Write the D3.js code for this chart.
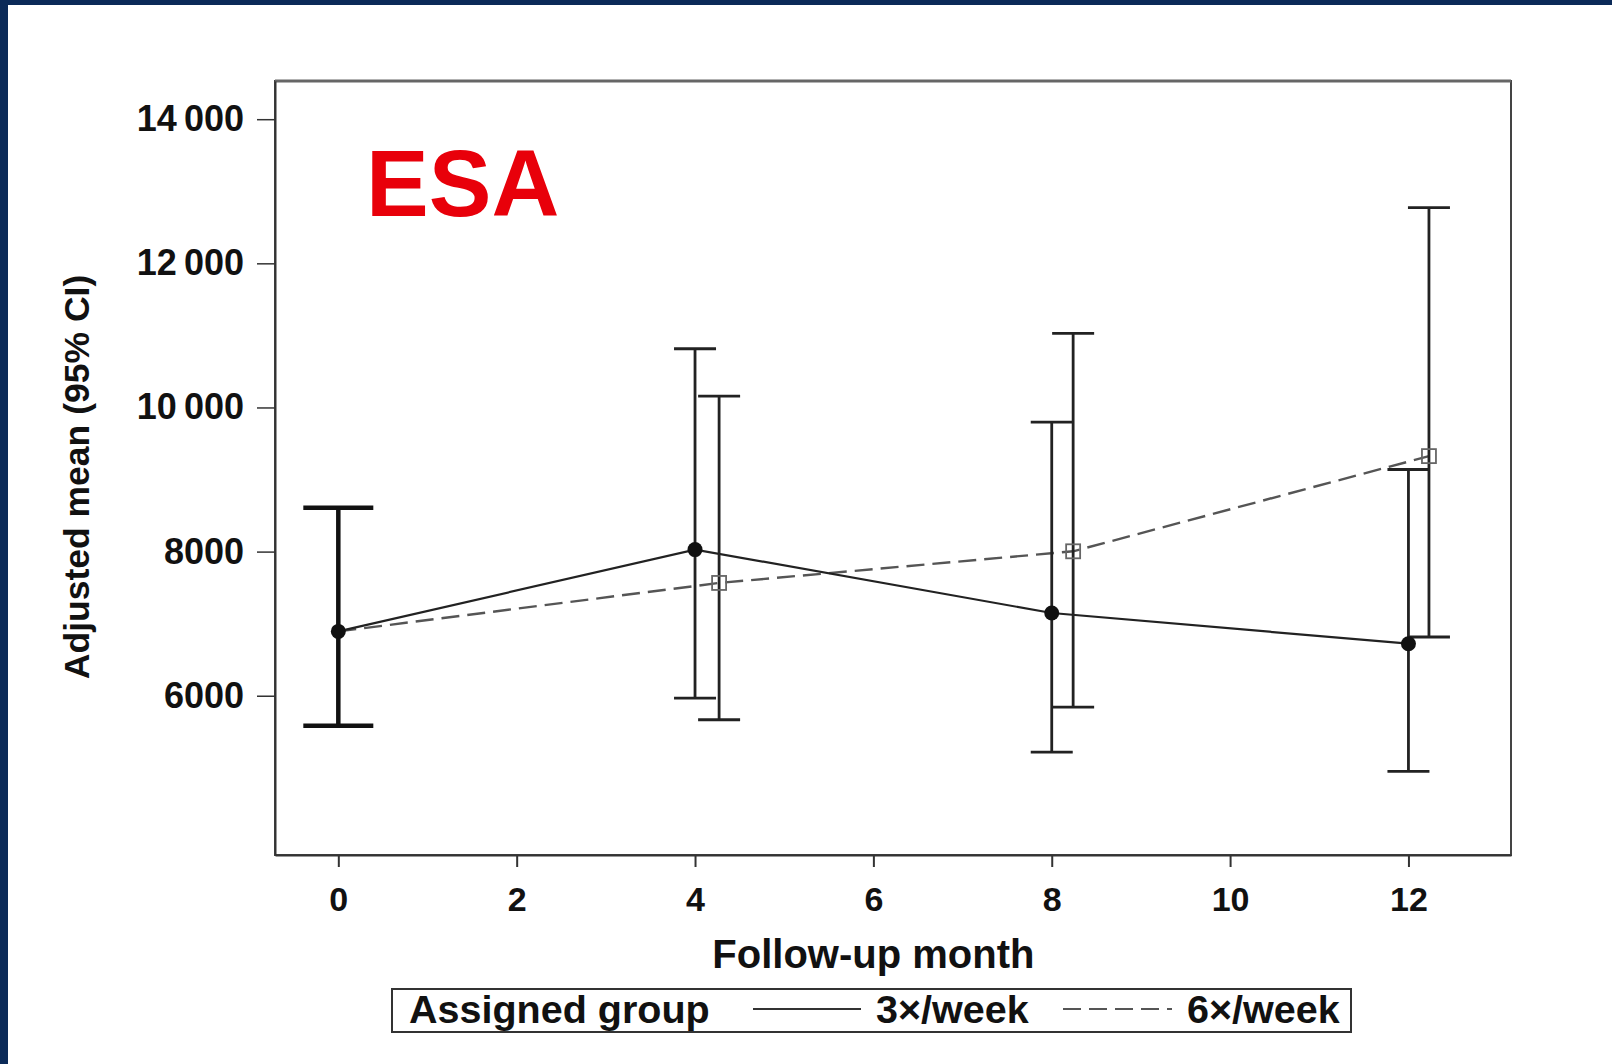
<!DOCTYPE html>
<html>
<head>
<meta charset="utf-8">
<script src="https://cdn.jsdelivr.net/npm/d3@7"></script>
<style>
  html, body { margin: 0; padding: 0; background: #ffffff; }
  svg { display: block; }
  text { font-family: "Liberation Sans", Arial, Helvetica, sans-serif; font-weight: bold; }
</style>
</head>
<body>
<svg id="chart" width="1612" height="1064"></svg>
<script>
// Pooled baseline (month 0)
const baselineMonth = 0;
const baselineMean = 6893;
const baselineLow = 5583;
const baselineHigh = 8607;

// Follow-up months and plotted positions (6x/week offset slightly right)
const months3 = [4, 8, 12];
const months6 = [4.27, 8.24, 12.23];

// Adjusted means with 95% CI, 3x/week
const mean3 = [8028, 7148, 6722];
const low3 = [5968, 5218, 4949];
const high3 = [10815, 9796, 9139];

// Adjusted means with 95% CI, 6x/week
const mean6 = [7565, 8004, 9325];
const low6 = [5667, 5843, 6815];
const high6 = [10157, 11028, 12774];

// Axis ticks
const xTicks = [0, 2, 4, 6, 8, 10, 12];
const yTicks = [6000, 8000, 10000, 12000, 14000];
const yTickLabels = ["6000", "8000", "10\u2009000", "12\u2009000", "14\u2009000"];

const legendTitle = "Assigned group";
const legendLabels = ["3×/week", "6×/week"];

const svg = d3.select("#chart");

// page frame accents
svg.append("rect").attr("x", 0).attr("y", 0).attr("width", 1612).attr("height", 1064).attr("fill", "#ffffff");
svg.append("rect").attr("x", 0).attr("y", 0).attr("width", 1612).attr("height", 5).attr("fill", "#0b2a58");
svg.append("rect").attr("x", 0).attr("y", 0).attr("width", 8).attr("height", 1064).attr("fill", "#0b2a58");

const plot = { left: 275, right: 1511, top: 81, bottom: 855 };

const x = d3.scaleLinear().domain([-0.71, 13.15]).range([plot.left, plot.right]);
const y = d3.scaleLinear().domain([3790, 14530]).range([plot.bottom, plot.top]);

// plot frame
svg.append("rect")
  .attr("x", plot.left).attr("y", plot.top)
  .attr("width", plot.right - plot.left).attr("height", plot.bottom - plot.top)
  .attr("fill", "none").attr("stroke", "#444").attr("stroke-width", 2);
svg.append("line")
  .attr("x1", plot.left).attr("x2", plot.right).attr("y1", plot.top).attr("y2", plot.top)
  .attr("stroke", "#666").attr("stroke-width", 3);

// y axis
const yAxis = d3.axisLeft(y).tickValues(yTicks).tickSizeInner(18).tickSizeOuter(0).tickPadding(13)
  .tickFormat((d, i) => yTickLabels[i]);
const gy = svg.append("g").attr("transform", `translate(${plot.left},0)`).call(yAxis);
gy.select(".domain").attr("stroke", "#333").attr("stroke-width", 2);
gy.selectAll(".tick line").attr("stroke", "#333").attr("stroke-width", 1.5);
gy.selectAll(".tick text").attr("font-size", 36).attr("fill", "#111")
  .attr("font-family", "'Liberation Sans', Arial, sans-serif").attr("font-weight", "bold");

// x axis
const xAxis = d3.axisBottom(x).tickValues(xTicks).tickSizeInner(12).tickSizeOuter(0).tickPadding(20)
  .tickFormat(d3.format("d"));
const gx = svg.append("g").attr("transform", `translate(0,${plot.bottom})`).call(xAxis);
gx.select(".domain").attr("stroke", "#333").attr("stroke-width", 2);
gx.selectAll(".tick line").attr("stroke", "#333").attr("stroke-width", 2);
gx.selectAll(".tick text").attr("font-size", 34).attr("fill", "#111")
  .attr("font-family", "'Liberation Sans', Arial, sans-serif").attr("font-weight", "bold");

// axis titles
svg.append("text")
  .attr("x", (x(0) + x(12)) / 2).attr("y", 968)
  .attr("text-anchor", "middle").attr("font-size", 40).attr("fill", "#111")
  .text("Follow-up month");
svg.append("text")
  .attr("transform", "translate(89,477) rotate(-90)")
  .attr("text-anchor", "middle").attr("font-size", 35.5).attr("fill", "#111")
  .text("Adjusted mean (95% CI)");

// panel label
svg.append("text")
  .attr("x", 366).attr("y", 216)
  .attr("font-size", 94).attr("fill", "#e8000a")
  .text("ESA");

// series lines (each starts from the pooled baseline)
const line = d3.line().x(d => x(d[0])).y(d => y(d[1]));
const pts3 = [[baselineMonth, baselineMean]].concat(months3.map((m, i) => [m, mean3[i]]));
const pts6 = [[baselineMonth, baselineMean]].concat(months6.map((m, i) => [m, mean6[i]]));

svg.append("path").datum(pts6).attr("d", line)
  .attr("fill", "none").attr("stroke", "#555").attr("stroke-width", 2.4)
  .attr("stroke-dasharray", "18,8");
svg.append("path").datum(pts3).attr("d", line)
  .attr("fill", "none").attr("stroke", "#222").attr("stroke-width", 2.2);

// error bars
function errorBar(g, m, lo, hi, half, w, color) {
  g.append("line").attr("x1", x(m)).attr("x2", x(m)).attr("y1", y(lo)).attr("y2", y(hi))
    .attr("stroke", color).attr("stroke-width", w);
  [lo, hi].forEach(v => {
    g.append("line").attr("x1", x(m) - half).attr("x2", x(m) + half).attr("y1", y(v)).attr("y2", y(v))
      .attr("stroke", color).attr("stroke-width", w);
  });
}
const bars = svg.append("g");
errorBar(bars, baselineMonth, baselineLow, baselineHigh, 35, 4.5, "#111");
months3.forEach((m, i) => errorBar(bars, m, low3[i], high3[i], 21, 2.8, "#222"));
months6.forEach((m, i) => errorBar(bars, m, low6[i], high6[i], 21, 2.8, "#222"));

// markers
svg.append("g").selectAll("rect").data(months6.map((m, i) => [m, mean6[i]])).join("rect")
  .attr("x", d => x(d[0]) - 7).attr("y", d => y(d[1]) - 7)
  .attr("width", 14).attr("height", 14)
  .attr("fill", "none").attr("stroke", "#666").attr("stroke-width", 1.8);
svg.append("g").selectAll("circle").data(pts3).join("circle")
  .attr("cx", d => x(d[0])).attr("cy", d => y(d[1])).attr("r", 7.5)
  .attr("fill", "#111");

// legend
const lg = svg.append("g");
lg.append("rect").attr("x", 392).attr("y", 989).attr("width", 959).attr("height", 43)
  .attr("fill", "#fff").attr("stroke", "#333").attr("stroke-width", 2);
lg.append("text").attr("x", 409).attr("y", 1023).attr("font-size", 39.5).attr("fill", "#111").text(legendTitle);
lg.append("line").attr("x1", 753).attr("x2", 861).attr("y1", 1009).attr("y2", 1009)
  .attr("stroke", "#333").attr("stroke-width", 2.2);
lg.append("text").attr("x", 876).attr("y", 1023).attr("font-size", 39.5).attr("fill", "#111").text(legendLabels[0]);
lg.append("line").attr("x1", 1063).attr("x2", 1172).attr("y1", 1009).attr("y2", 1009)
  .attr("stroke", "#555").attr("stroke-width", 2.2).attr("stroke-dasharray", "18,8");
lg.append("text").attr("x", 1187).attr("y", 1023).attr("font-size", 39.5).attr("fill", "#111").text(legendLabels[1]);
</script>
</body>
</html>
